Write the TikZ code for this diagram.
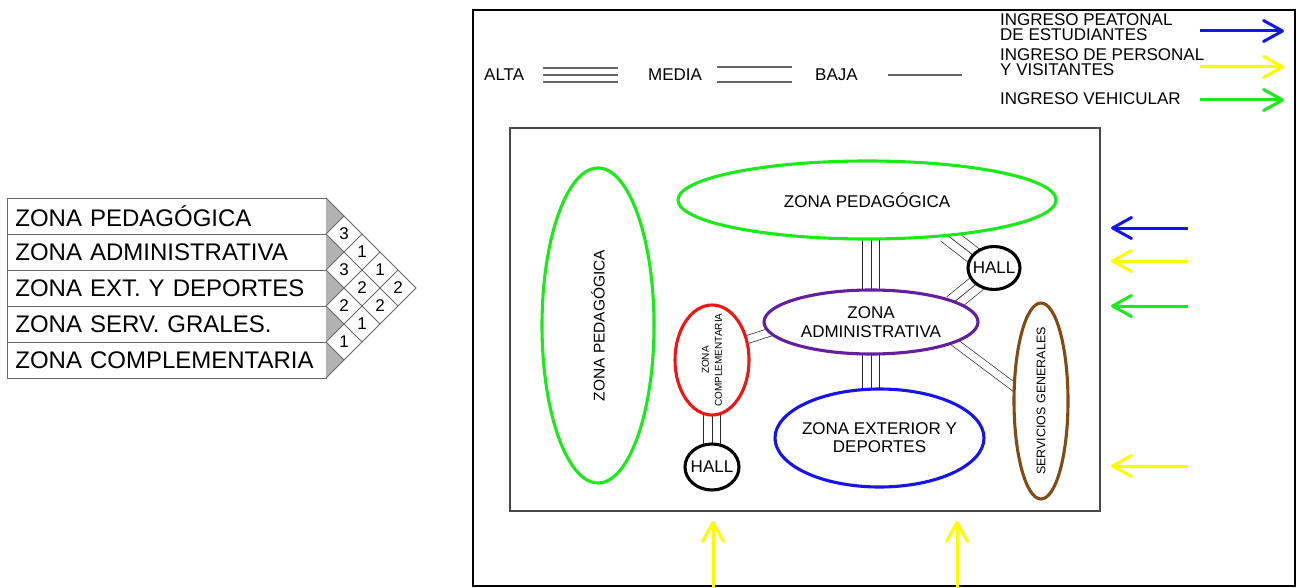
\documentclass[tikz,border=0pt]{standalone}
\usepackage{fontspec}
\setmainfont{Liberation Sans}
\usepackage{graphicx}
\usetikzlibrary{arrows.meta,shapes.geometric,calc}
\pgfdeclarelayer{background}
\pgfsetlayers{background,main}

\definecolor{zgreen}{RGB}{25,235,25}
\definecolor{zblue}{RGB}{20,20,235}
\definecolor{zpurple}{RGB}{100,30,160}
\definecolor{zred}{RGB}{240,20,20}
\definecolor{zbrown}{RGB}{130,75,20}
\definecolor{zyellow}{RGB}{255,250,0}
\definecolor{rulegray}{gray}{0.4}

\tikzset{
  fs/.style={font=\fontsize{#1}{#1}\selectfont},
  zone/.style={ellipse, draw=#1, line width=3.1pt, fill=white, inner sep=0pt},
  tie/.style={draw=black!85, line width=0.7pt},
  media/.style={tie, double=white, double distance=7.3pt},
  alta/.style={tie, double=white, double distance=16.6pt, postaction={draw=black!85, line width=0.7pt, double=none}},
  ext/.style={shorten <=-4pt, shorten >=-4pt},
  entry/.style={line width=3pt, -{Straight Barb[length=19pt,width=21pt,round]}},
  rowbox/.style={draw=rulegray, line width=0.8pt, minimum width=319pt, minimum height=36pt,
    inner xsep=8pt, inner ysep=0pt, text width=303pt, align=left, anchor=north west, fs=24},
  gridline/.style={draw=rulegray, line width=0.8pt},
  cell/.style={fs=17, inner sep=0pt},
  legtext/.style={font=\fontsize{17}{15}\selectfont, anchor=west, inner sep=0pt, align=left},
  legline/.style={draw=rulegray, line width=1.8pt},
}

\begin{document}
\begin{tikzpicture}[x=1pt,y=-1pt]
\useasboundingbox (0,0) rectangle (1297,588);

% ---------- relationship matrix ----------
\foreach \t [count=\i] in {ZONA PEDAGÓGICA, ZONA ADMINISTRATIVA, ZONA EXT. Y DEPORTES, ZONA SERV. GRALES., ZONA COMPLEMENTARIA}
  \node[rowbox] (row\i) at (7,{198+36*(\i-1)}) {\t};

\foreach \i in {0,...,4}
  \fill[gray!60] (326,{198+36*\i}) -- (344,{216+36*\i}) -- (326,{234+36*\i}) -- cycle;

\draw[gridline] (326,198) -- (416,288) -- (326,378);
\foreach \y in {234,270,306,342} {
  \draw[gridline] (326,\y) -- ({(454+\y)/2},{(454+\y)/2-128});
  \draw[gridline] (326,\y) -- ({(1030-\y)/2},{704-(1030-\y)/2});
}
\foreach \i/\j/\v in {1/2/3,1/3/1,1/4/1,1/5/2,2/3/3,2/4/2,2/5/2,3/4/2,3/5/1,4/5/1}
  \node[cell] (c\i\j) at ({326+18*(\j-\i)},{198+18*(\i+\j-1)}) {\v};

% ---------- frames ----------
\draw[line width=1.8pt] (473,10) rectangle (1295,586);
\draw[draw=rulegray!70!black, line width=1.5pt] (510,128) rectangle (1100,511);

% ---------- legend: intensity of relation ----------
\node[legtext] (lalta) at (484,75) {ALTA};
\node[legtext] (lmedia) at (648,75) {MEDIA};
\node[legtext] (lbaja) at (815,75) {BAJA};
\foreach \y in {68,75,82} \draw[legline] (543,\y) -- (618,\y);
\foreach \y in {67,82} \draw[legline] (717,\y) -- (792,\y);
\draw[legline] (888,75) -- (962,75);

% ---------- legend: entrances ----------
\node[legtext] (lpeat) at (1000,27) {INGRESO PEATONAL\\DE ESTUDIANTES};
\node[legtext] (lpers) at (1000,62.5) {INGRESO DE PERSONAL\\Y VISITANTES};
\node[legtext] (lveh) at (1000,99) {INGRESO VEHICULAR};
\coordinate (kb1) at (1200,31);  \coordinate (kb2) at (1284,31);
\coordinate (ky1) at (1200,67);  \coordinate (ky2) at (1284,67);
\coordinate (kg1) at (1200,100); \coordinate (kg2) at (1284,100);
\draw[entry, zblue] (kb1) -- (kb2);
\draw[entry, zyellow] (ky1) -- (ky2);
\draw[entry, zgreen] (kg1) -- (kg2);

% ---------- zones ----------
\node[zone=zgreen, minimum width=112pt, minimum height=315pt,
  label={[rotate=90, fs=15.5]center:ZONA PEDAGÓGICA}] (zpv) at (598,325.5) {};
\node[zone=zgreen, minimum width=378pt, minimum height=78pt,
  label={[fs=17]center:ZONA PEDAGÓGICA}] (zpt) at (867,200) {};
\node[zone=zred, minimum width=74pt, minimum height=110pt,
  label={[rotate=90, align=center, font=\fontsize{10}{13}\selectfont]center:ZONA\\COMPLEMENTARIA}] (zc) at (712,360) {};
\node[zone=zpurple, minimum width=214pt, minimum height=64pt,
  label={[align=center, font=\fontsize{17}{19}\selectfont]center:ZONA\\ADMINISTRATIVA}] (za) at (871,322) {};
\node[zone=zblue, minimum width=209pt, minimum height=98pt,
  label={[align=center, font=\fontsize{17}{18}\selectfont]center:ZONA EXTERIOR Y\\DEPORTES}] (ze) at (879.5,438) {};
\node[zone=zbrown, minimum width=54pt, minimum height=196pt,
  label={[rotate=90, fs=12.5]center:SERVICIOS GENERALES}] (sg) at (1041,401) {};
\node[zone=black, minimum width=54pt, minimum height=46pt,
  label={[fs=17]center:HALL}] (hallb) at (712,467) {};
\node[zone=black, minimum width=52pt, minimum height=43pt,
  label={[fs=17]center:HALL}] (halltr) at (994,268) {};

% ---------- relations (under the zones) ----------
\coordinate (zcL) at ($(zc.center)+(0,5)$);
\coordinate (zeL) at ($(ze.center)+(0,-4)$);
\begin{pgfonlayer}{background}
  \draw[media] (zcL -| zpv.center) -- (zcL);
  \draw[media, ext] (zc.30) -- (za.186);
  \draw[alta] (zc.center) -- (hallb.center);
  \draw[alta] (za.center |- zpt.center) -- (za.center);
  \draw[alta] (za.center) -- (za.center |- ze.center);
  \draw[alta, ext] (zpt.-24) -- (halltr.148);
  \draw[alta, ext] (halltr.222) -- (za.14);
  \draw[media, ext] (za.-14) -- (sg.152);
  \draw[media] (zeL) -- (zeL -| sg.center);
\end{pgfonlayer}

% ---------- entrances ----------
\coordinate (ea1) at (1188,228); \coordinate (ea2) at (1111,228);
\coordinate (eb1) at (1188,261); \coordinate (eb2) at (1111,261);
\coordinate (ec1) at (1188,306); \coordinate (ec2) at (1111,306);
\coordinate (ed1) at (1188,466); \coordinate (ed2) at (1111,466);
\coordinate (ee1) at (713,588);  \coordinate (ee2) at (713,521);
\coordinate (ef1) at (957,588);  \coordinate (ef2) at (957,521);
\draw[entry, zblue] (ea1) -- (ea2);
\draw[entry, zyellow] (eb1) -- (eb2);
\draw[entry, zgreen] (ec1) -- (ec2);
\draw[entry, zyellow] (ed1) -- (ed2);
\draw[entry, zyellow] (ee1) -- (ee2);
\draw[entry, zyellow] (ef1) -- (ef2);
\end{tikzpicture}
\end{document}
